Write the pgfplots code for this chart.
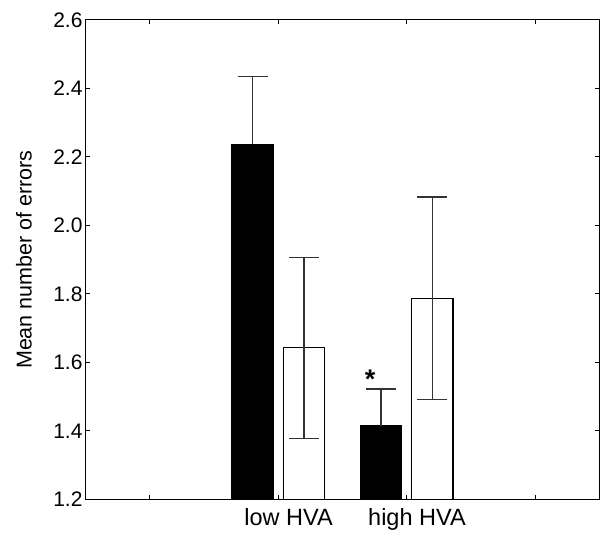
\documentclass[border=0pt]{standalone}
\usepackage{fontspec}
\setmainfont{Liberation Sans}
\usepackage{pgfplots}
\pgfplotsset{compat=1.18}

\begin{document}
\begin{tikzpicture}
\begin{axis}[
  scale only axis,
  width=513.6pt, height=479.5pt,
  xmin=0, xmax=8,
  ymin=1.2, ymax=2.6,
  xtick={1,3,5,7},
  xticklabels={},
  ytick={1.2,1.4,...,2.6},
  tick align=inside,
  major tick length=4.5pt,
  every tick/.style={black, line width=0.9pt},
  axis line style={line width=1.1pt},
  yticklabel style={
    font=\fontsize{21}{24}\selectfont,
    inner sep=1pt, xshift=-2pt,
    /pgf/number format/.cd, fixed, fixed zerofill, precision=1,
    assume math mode=true},
  clip mode=individual,
  error bars/y explicit,
  error bars/error bar style={line width=1.3pt, black!80},
  error bars/error mark options={rotate=90, mark size=15pt, line width=1.3pt, black!80},
]
% filled bars (only the upper whisker shows above the black fill)
\addplot[ybar, bar width=41.2pt, bar shift=0pt, draw=black, fill=black, line width=1.1pt,
  error bars/y dir=plus]
  coordinates {(2.6,2.236) +- (0,0.198) (4.6,1.415) +- (0,0.107)};
% open bars
\addplot[ybar, bar width=41.2pt, bar shift=0pt, draw=black, fill=white, line width=1.1pt,
  error bars/y dir=both]
  coordinates {(3.4,1.642) +- (0,0.265) (5.4,1.787) +- (0,0.296)};

\node[font=\fontsize{27}{28}\selectfont\bfseries] at (axis cs:4.43,1.55) {*};

\node[rotate=90, anchor=base, font=\fontsize{21.5}{24}\selectfont]
  at ([xshift=-54pt]rel axis cs:0,0.5) {Mean number of errors};
\node[anchor=base, font=\fontsize{23.5}{26}\selectfont]
  at ([yshift=-25.7pt]axis cs:3.16,1.2) {low HVA};
\node[anchor=base, font=\fontsize{23.5}{26}\selectfont]
  at ([yshift=-25.7pt]axis cs:5.16,1.2) {high HVA};

% page frame matching the reference crop
\path ([xshift=-85.7pt, yshift=-30.7pt]rel axis cs:0,0)
  rectangle ([xshift=0.7pt, yshift=19.8pt]rel axis cs:1,1);
\end{axis}
\end{tikzpicture}
\end{document}
